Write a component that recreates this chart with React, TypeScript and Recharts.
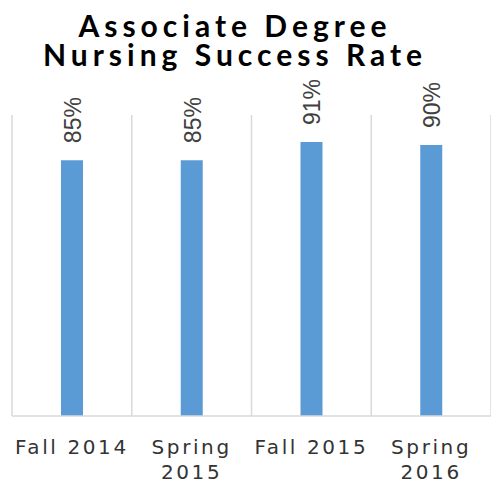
import React from 'react';
import { BarChart, Bar, XAxis, YAxis, CartesianGrid, LabelList } from 'recharts';

const terms = ['Fall 2014', 'Spring 2015', 'Fall 2015', 'Spring 2016'];
const successRates = [85, 85, 91, 90];
const tickLines = [['Fall 2014'], ['Spring', '2015'], ['Fall 2015'], ['Spring', '2016']];
const titleLines = ['Associate Degree', 'Nursing Success Rate'];

const data = terms.map((term, i) => ({ term, rate: successRates[i] }));

const TermTick = (props: any) => {
  const { x, y, index } = props;
  const lines = tickLines[index] || [props.payload.value];
  return (
    <text
      x={x}
      y={y + 36}
      textAnchor="middle"
      fill="#333"
      fontFamily="'DejaVu Sans', sans-serif"
      fontSize={20}
      letterSpacing={2.6}
    >
      {lines.map((line: string, i: number) => (
        <tspan key={i} x={x} dy={i === 0 ? 0 : 24.5}>
          {line}
        </tspan>
      ))}
    </text>
  );
};

const RateLabel = (props: any) => {
  const { x, y, width, value } = props;
  const cx = x + width / 2 + 9;
  const cy = y - 17;
  return (
    <text
      x={cx}
      y={cy}
      transform={`rotate(-90 ${cx} ${cy})`}
      textAnchor="start"
      fill="#404040"
      fontFamily="'Liberation Sans Narrow', 'Liberation Sans', sans-serif"
      fontSize={23}
    >
      {`${value}%`}
    </text>
  );
};

// vertical gridlines sit on the band edges, not the band centers
const bandEdges = ({ offset, width }: any) => {
  const left = offset?.left ?? 12;
  const w = offset?.width ?? width - left;
  const n = terms.length;
  return Array.from({ length: n + 1 }, (_, i) => left + (w * i) / n);
};

export default function App() {
  return (
    <div style={{ position: 'relative', width: 491, height: 482, background: '#fff' }}>
      <style>{'body { margin: 0; }'}</style>
      <svg
        width={491}
        height={90}
        style={{ position: 'absolute', left: 0, top: 0, pointerEvents: 'none' }}
      >
        {titleLines.map((line, i) => (
          <text
            key={line}
            x={235}
            y={37 + i * 28.5}
            textAnchor="middle"
            fill="#000"
            fontFamily="Lato, sans-serif"
            fontWeight="bold"
            fontSize={30}
            letterSpacing={5}
          >
            {line}
          </text>
        ))}
      </svg>
      <BarChart
        width={491}
        height={482}
        data={data}
        margin={{ top: 115, right: 0, bottom: 0, left: 12 }}
      >
        <CartesianGrid
          stroke="#d9d9d9"
          strokeWidth={1.5}
          horizontal={false}
          verticalCoordinatesGenerator={bandEdges}
        />
        <XAxis
          dataKey="term"
          height={66}
          tickSize={0}
          tickLine={false}
          axisLine={{ stroke: '#d9d9d9', strokeWidth: 1.5 }}
          tick={<TermTick />}
          interval={0}
        />
        <YAxis hide domain={[0, 100]} />
        <Bar dataKey="rate" fill="#5b9bd5" barSize={22} isAnimationActive={false}>
          <LabelList dataKey="rate" content={<RateLabel />} />
        </Bar>
      </BarChart>
    </div>
  );
}
